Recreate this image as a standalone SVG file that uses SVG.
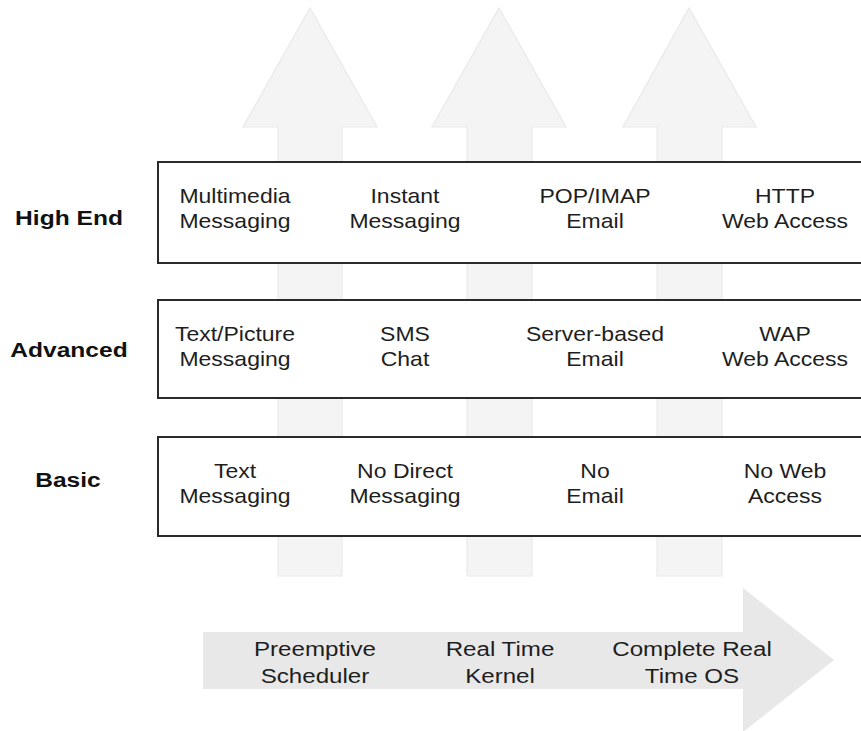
<svg xmlns="http://www.w3.org/2000/svg" width="861" height="731" viewBox="0 0 861 731">
<defs>
<style>
.bg{fill:#ffffff}
.up{fill:#f4f4f4;stroke:#e9e9e9;stroke-width:1.2}
.right{fill:#e8e8e8}
.box{fill:#ffffff;stroke:#2a2a2a;stroke-width:2}
.t{font-family:"Liberation Sans",Arial,sans-serif;font-size:20px;fill:#1e1e1e;text-anchor:middle}
.tb{font-family:"Liberation Sans",Arial,sans-serif;font-size:21px;font-weight:bold;fill:#111;text-anchor:middle}
.tr{font-family:"Liberation Sans",Arial,sans-serif;font-size:21px;fill:#1e1e1e;text-anchor:middle}
</style>
</defs>
<rect class="bg" x="0" y="0" width="861" height="731"/>
<g id="connectors">
  <path id="up1" class="up" d="M310,8 L377,127 L342,127 L342,576 L278,576 L278,127 L243,127 Z"/>
  <path id="up2" class="up" d="M499,8 L566,127 L532,127 L532,576 L467,576 L467,127 L432,127 Z"/>
  <path id="up3" class="up" d="M689,8 L756,127 L722,127 L722,576 L657,576 L657,127 L623,127 Z"/>
  <path id="rightArrow" class="right" d="M203,632 L743,632 L743,588 L834,660 L743,732 L743,689 L203,689 Z"/>
</g>
<g id="label-highend"><text class="tb" transform="translate(69 225) scale(1.17 1)">High End</text></g>
<g id="label-advanced"><text class="tb" transform="translate(69 357) scale(1.17 1)">Advanced</text></g>
<g id="label-basic"><text class="tb" transform="translate(68 487) scale(1.17 1)">Basic</text></g>
<g id="row-highend">
  <rect class="box" x="158" y="162" width="720" height="101"/>
  <text class="t" transform="translate(235 203) scale(1.15 1)"><tspan x="0">Multimedia</tspan><tspan x="0" dy="25">Messaging</tspan></text>
  <text class="t" transform="translate(405 203) scale(1.15 1)"><tspan x="0">Instant</tspan><tspan x="0" dy="25">Messaging</tspan></text>
  <text class="t" transform="translate(595 203) scale(1.15 1)"><tspan x="0">POP/IMAP</tspan><tspan x="0" dy="25">Email</tspan></text>
  <text class="t" transform="translate(785 203) scale(1.15 1)"><tspan x="0">HTTP</tspan><tspan x="0" dy="25">Web Access</tspan></text>
</g>
<g id="row-advanced">
  <rect class="box" x="158" y="300" width="720" height="98"/>
  <text class="t" transform="translate(235 341) scale(1.15 1)"><tspan x="0">Text/Picture</tspan><tspan x="0" dy="25">Messaging</tspan></text>
  <text class="t" transform="translate(405 341) scale(1.15 1)"><tspan x="0">SMS</tspan><tspan x="0" dy="25">Chat</tspan></text>
  <text class="t" transform="translate(595 341) scale(1.15 1)"><tspan x="0">Server-based</tspan><tspan x="0" dy="25">Email</tspan></text>
  <text class="t" transform="translate(785 341) scale(1.15 1)"><tspan x="0">WAP</tspan><tspan x="0" dy="25">Web Access</tspan></text>
</g>
<g id="row-basic">
  <rect class="box" x="158" y="437" width="720" height="99"/>
  <text class="t" transform="translate(235 478) scale(1.15 1)"><tspan x="0">Text</tspan><tspan x="0" dy="25">Messaging</tspan></text>
  <text class="t" transform="translate(405 478) scale(1.15 1)"><tspan x="0">No Direct</tspan><tspan x="0" dy="25">Messaging</tspan></text>
  <text class="t" transform="translate(595 478) scale(1.15 1)"><tspan x="0">No</tspan><tspan x="0" dy="25">Email</tspan></text>
  <text class="t" transform="translate(785 478) scale(1.15 1)"><tspan x="0">No Web</tspan><tspan x="0" dy="25">Access</tspan></text>
</g>
<g id="os-stages">
  <text class="tr" transform="translate(315 656) scale(1.15 1)"><tspan x="0">Preemptive</tspan><tspan x="0" dy="27">Scheduler</tspan></text>
  <text class="tr" transform="translate(500 656) scale(1.15 1)"><tspan x="0">Real Time</tspan><tspan x="0" dy="27">Kernel</tspan></text>
  <text class="tr" transform="translate(692 656) scale(1.15 1)"><tspan x="0">Complete Real</tspan><tspan x="0" dy="27">Time OS</tspan></text>
</g>
</svg>
